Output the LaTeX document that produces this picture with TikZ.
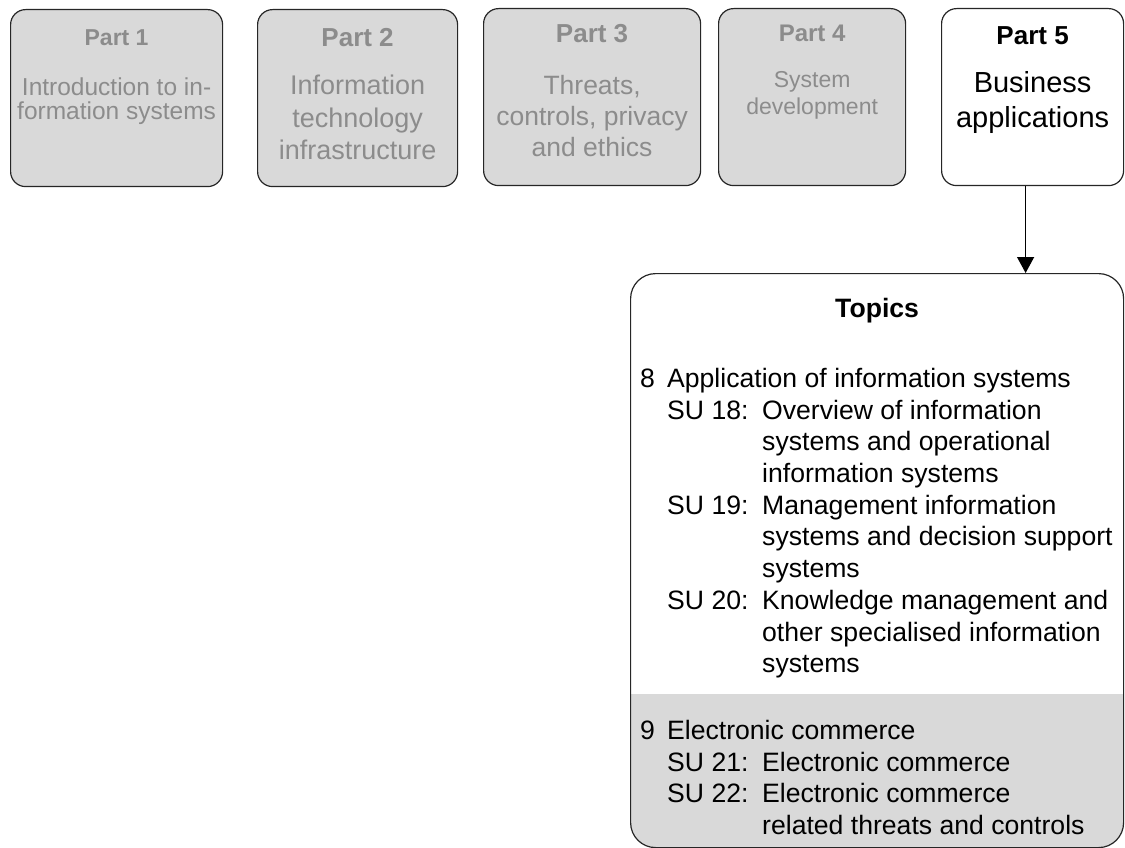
\documentclass[tikz,border=0pt]{standalone}
\usepackage{fontspec}
\setmainfont{Liberation Sans}
\usepackage{xcolor}
\usetikzlibrary{positioning,arrows.meta}
\definecolor{boxgray}{HTML}{D9D9D9}
\definecolor{dimtext}{HTML}{8C8C8C}
\newcommand{\fs}[2]{\fontsize{#1}{#2}\selectfont}

\begin{document}
\begin{tikzpicture}[x=1pt,y=-1pt,>={Triangle[length=16pt,width=17pt]},
  partbox/.style={draw=black!85,line width=1.2pt,rounded corners=15pt,inner sep=0pt,anchor=north west},
  parttext/.style={anchor=north,align=center,inner sep=0pt,text=dimtext}]
\useasboundingbox (0,0) rectangle (1125,848);
% the five parts
\node[partbox,fill=boxgray,minimum width=212pt,minimum height=177pt] (p1) at (10,9) {};
\node[partbox,fill=boxgray,minimum width=200pt,minimum height=177pt] (p2) at (257,9) {};
\node[partbox,fill=boxgray,minimum width=217pt,minimum height=177pt] (p3) at (483,8) {};
\node[partbox,fill=boxgray,minimum width=187pt,minimum height=177pt] (p4) at (718,8) {};
\node[partbox,fill=white,minimum width=182pt,minimum height=177pt] (p5) at (941,8) {};
\node[parttext,font=\fs{24.5}{24}] (p1txt) at ([yshift=-20pt]p1.north)
  {{\bfseries\fs{23}{24}Part 1}\\[26.5pt]Introduction to in-\\formation systems};
\node[parttext,font=\fs{27}{32.5}] (p2txt) at ([yshift=-19pt]p2.north)
  {{\bfseries\fs{26}{32.5}Part 2}\\[16pt]Information\\technology\\infrastructure};
\node[parttext,font=\fs{26.5}{31}] (p3txt) at ([yshift=-16pt]p3.north)
  {{\bfseries\fs{26}{31}Part 3}\\[21pt]Threats,\\controls, privacy\\and ethics};
\node[parttext,font=\fs{23}{27}] (p4txt) at ([yshift=-16.5pt]p4.north)
  {{\bfseries\fs{24}{27}Part 4}\\[19.6pt]System\\development};
\node[parttext,font=\fs{29}{35},text=black] (p5txt) at ([yshift=-18pt]p5.north)
  {{\bfseries\fs{26}{35}Part 5}\\[13pt]Business\\applications};
% topics of part 5
\node[draw=black!85,line width=1.2pt,rounded corners=25pt,inner sep=0pt,anchor=north west,
  minimum width=493pt,minimum height=574pt,
  path picture={\fill[boxgray,sharp corners] ([yshift=-420pt]path picture bounding box.north west) rectangle (path picture bounding box.south east);}]
  (topics) at (630,273) {};
\draw[->,line width=1.3pt] ([xshift=-7pt]p5.south) -- ([xshift=-7pt]p5.south |- topics.north);
\node[font=\bfseries\fs{26.6}{31}] (ttl) at ([yshift=-38pt]topics.north) {Topics};
\node[anchor=north west,align=left,inner sep=0pt,font=\fs{26.6}{31.7}] (sec8) at ([xshift=10pt,yshift=-95pt]topics.north west)
  {\makebox[27pt][l]{8}Application of information systems\\
   \hspace*{27pt}\makebox[95pt][l]{SU 18:}Overview of information\\
   \hspace*{122pt}systems and operational\\
   \hspace*{122pt}information systems\\
   \hspace*{27pt}\makebox[95pt][l]{SU 19:}Management information\\
   \hspace*{122pt}systems and decision support\\
   \hspace*{122pt}systems\\
   \hspace*{27pt}\makebox[95pt][l]{SU 20:}Knowledge management and\\
   \hspace*{122pt}other specialised information\\
   \hspace*{122pt}systems};
\node[anchor=north west,align=left,inner sep=0pt,font=\fs{26.6}{31.7}] (sec9) at ([xshift=10pt,yshift=-447pt]topics.north west)
  {\makebox[27pt][l]{9}Electronic commerce\\
   \hspace*{27pt}\makebox[95pt][l]{SU 21:}Electronic commerce\\
   \hspace*{27pt}\makebox[95pt][l]{SU 22:}Electronic commerce\\
   \hspace*{122pt}related threats and controls};
\end{tikzpicture}
\end{document}
